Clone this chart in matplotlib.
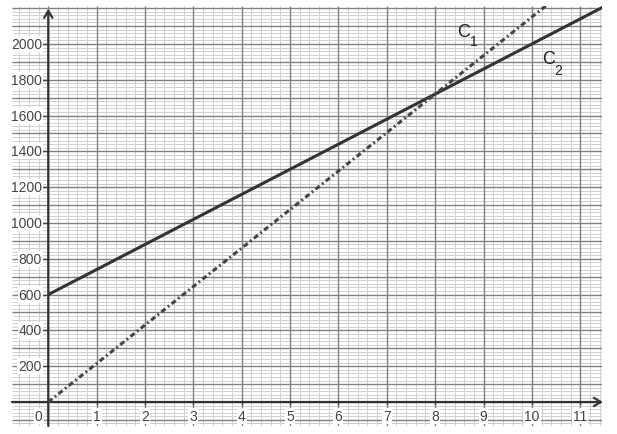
import numpy as np
import matplotlib
matplotlib.use('Agg')
import matplotlib.pyplot as plt

# points
c1_x = [0.0, 8.0, 10.3]
c1_y = [0.0, 1720.0, 2215.0]
c2_x = [0.0, 8.0, 11.5]
c2_y = [600.0, 1720.0, 2210.0]

xticks = [1, 2, 3, 4, 5, 6, 7, 8, 9, 10, 11]
yticks = [200, 400, 600, 800, 1000, 1200, 1400, 1600, 1800, 2000]

xmin, xmax = -0.75, 11.45
ymin, ymax = -134, 2212

fig = plt.figure(figsize=(6.17, 4.35), dpi=100)
ax = fig.add_axes([12/617, 8/435, 590/617, 420/435])
ax.set_xlim(xmin, xmax)
ax.set_ylim(ymin, ymax)

# graph paper: minor first, major on top
xminor = np.arange(-0.6, xmax, 0.2)
yminor = np.arange(-120, ymax, 20)
xmajor = np.arange(0, xmax, 1)
ymajor = np.arange(-100, ymax, 100)
ax.vlines(xminor, ymin, ymax, color='#d0d0d0', lw=0.7, zorder=0)
ax.hlines(yminor, xmin, xmax, color='#d0d0d0', lw=0.7, zorder=0)
ax.vlines(xmajor, ymin, ymax, color='#808080', lw=1.0, zorder=0.5)
ax.hlines(ymajor, xmin, xmax, color='#808080', lw=1.0, zorder=0.5)

for s in ax.spines.values():
    s.set_visible(False)
ax.set_xticks([])
ax.set_yticks([])

# axes with open arrow heads
ax.annotate('', xy=(xmax + 0.02, 0), xytext=(xmin, 0), annotation_clip=False,
            arrowprops=dict(arrowstyle='->,head_length=0.5,head_width=0.3', color='#333333', lw=1.6,
                            shrinkA=0, shrinkB=0))
ax.annotate('', xy=(0, ymax - 15), xytext=(0, ymin), annotation_clip=False,
            arrowprops=dict(arrowstyle='->,head_length=0.5,head_width=0.3', color='#333333', lw=1.6,
                            shrinkA=0, shrinkB=0))

lab = dict(fontsize=10, color='#444444', family='Liberation Sans', zorder=3,
           bbox=dict(facecolor='white', edgecolor='none', pad=0.8))
for t in xticks:
    ax.plot([t, t], [-12, 0], color='#444444', lw=1, clip_on=False)
    ax.text(t, -80, str(t), ha='center', va='center', **lab)
for t in yticks:
    ax.plot([-0.13, 0], [t, t], color='#444444', lw=1, clip_on=False)
    ax.text(-0.13, t, str(t), ha='right', va='center', **lab)
ax.text(-0.2, -80, '0', ha='center', va='center', **lab)

ax.plot(c2_x, c2_y, color='#333333', lw=2.2, solid_capstyle='butt', zorder=4)
ax.plot(c1_x, c1_y, color='#444444', lw=2.2, linestyle=(0, (1.7, 1.0, 0.6, 1.0)), zorder=4)

lbl = dict(color='#222222', ha='center', va='center', family='Liberation Sans', zorder=5)
ax.text(8.58, 2069, 'C', fontsize=13, **lbl)
ax.text(8.8, 2017, '1', fontsize=10, **lbl)
ax.text(10.34, 1918, 'C', fontsize=13, **lbl)
ax.text(10.55, 1855, '2', fontsize=10, **lbl)

fig.savefig('out.png', dpi=100)
